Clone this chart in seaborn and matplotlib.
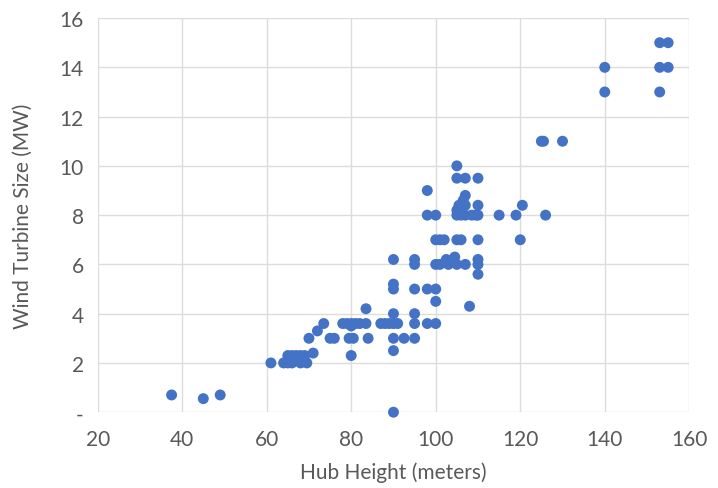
import matplotlib
matplotlib.use("Agg")
import matplotlib.pyplot as plt
import seaborn as sns
import pandas as pd

hub_height = [
    37.5, 45, 49, 90,
    61, 64, 65, 66, 68, 69.5, 65, 66, 67, 68, 69, 71,
    70, 72, 73.5, 75, 76, 78, 79, 80, 81, 82, 83.5, 80, 79.5, 80.5, 80,
    83.5, 84, 87, 88, 89, 90, 91, 90, 90, 92.5, 90,
    95, 95, 95, 95, 90, 90, 90, 95, 95,
    98, 100, 100, 98, 100,
    98, 98, 100, 100, 101, 102, 105, 106, 110, 120,
    100, 101, 102.5, 103, 104.5, 105, 107, 110, 110, 110, 108,
    105, 105, 107, 110, 107, 106.5, 105.5, 107, 110, 105,
    105, 106, 107, 108.5, 109.5, 110, 115, 119, 120.5, 126,
    125, 125.5, 130, 140, 140, 153, 153, 155, 153, 155,
]
turbine_mw = [
    0.7, 0.55, 0.7, 0,
    2, 2, 2, 2, 2, 2, 2.3, 2.3, 2.3, 2.3, 2.3, 2.4,
    3, 3.3, 3.6, 3, 3, 3.6, 3.6, 3.6, 3.6, 3.6, 3.6, 3.5, 3, 3, 2.3,
    4.2, 3, 3.6, 3.6, 3.6, 3.6, 3.6, 4, 3, 3, 2.5,
    3, 3.6, 4, 5, 5, 5.2, 6.2, 6, 6.2,
    5, 5, 4.5, 3.6, 3.6,
    9, 8, 8, 7, 7, 7, 7, 7, 7, 7,
    6, 6, 6.2, 6, 6.3, 6, 6, 6.2, 6, 5.6, 4.3,
    10, 9.5, 9.5, 9.5, 8.8, 8.6, 8.4, 8.4, 8.4, 8.2,
    8, 8, 8, 8, 8, 8, 8, 8, 8.4, 8,
    11, 11, 11, 14, 13, 13, 14, 14, 15, 15,
]
x_ticks = [20, 40, 60, 80, 100, 120, 140, 160]
y_ticks = [0, 2, 4, 6, 8, 10, 12, 14, 16]
y_tick_labels = ["-", "2", "4", "6", "8", "10", "12", "14", "16"]

df = pd.DataFrame({"Hub Height (meters)": hub_height,
                   "Wind Turbine Size (MW)": turbine_mw})

sns.set_theme(style="white")
plt.rcParams["font.family"] = ["Lato", "DejaVu Sans"]

fig = plt.figure(figsize=(7.18, 4.89), dpi=100)
ax = fig.add_axes([0.136, 0.155, 0.824, 0.806])

sns.scatterplot(data=df, x="Hub Height (meters)", y="Wind Turbine Size (MW)",
                ax=ax, color="#4472C4", s=62, edgecolor="none", zorder=3,
                clip_on=False)

ax.set_xlim(20, 160)
ax.set_ylim(0, 16)
ax.set_xticks(x_ticks)
ax.set_yticks(y_ticks)
ax.set_yticklabels(y_tick_labels)
ax.grid(True, color="#DCDCDC", linewidth=1)
ax.set_axisbelow(True)
for s in ax.spines.values():
    s.set_visible(False)
ax.tick_params(axis="x", length=0, labelsize=15, colors="#595959", pad=12)
ax.tick_params(axis="y", length=0, labelsize=15, colors="#595959", pad=10)
ax.set_xlabel("Hub Height (meters)", fontsize=15, color="#595959", labelpad=9)
ax.set_ylabel("Wind Turbine Size (MW)", fontsize=15, color="#595959", labelpad=19)

fig.savefig("out.png", dpi=100)
